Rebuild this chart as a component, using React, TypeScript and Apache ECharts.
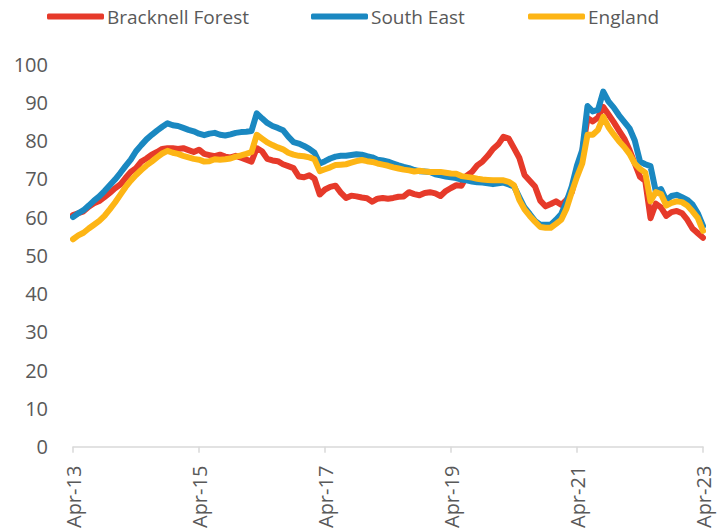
import React, { useEffect, useRef } from "react";
import * as echarts from "echarts";

const MONTHS = ["Jan", "Feb", "Mar", "Apr", "May", "Jun", "Jul", "Aug", "Sep", "Oct", "Nov", "Dec"];
// Monthly categories Apr-13 .. Apr-23
const categories: string[] = [];
for (let i = 0; i <= 120; i++) {
  const mi = (3 + i) % 12;
  const yr = 13 + Math.floor((3 + i) / 12);
  categories.push(`${MONTHS[mi]}-${yr}`);
}

const bracknellForest = [
  60.5, 61.0, 61.5, 62.7, 63.6, 64.2, 65.2, 66.3, 67.5, 68.5, 70.2, 71.8,
  72.8, 74.5, 75.3, 76.3, 77.0, 77.8, 78.0, 78.0, 77.8, 78.0, 77.5, 77.0,
  77.6, 76.5, 76.2, 75.9, 76.3, 75.8, 75.6, 76.0, 75.5, 75.0, 74.5, 78.0,
  77.2, 75.2, 74.8, 74.6, 73.8, 73.3, 72.8, 70.6, 70.4, 70.9, 70.0, 65.9,
  67.2, 67.9, 68.2, 66.4, 65.0, 65.6, 65.4, 65.1, 64.9, 64.0, 64.8, 65.0,
  64.8, 65.0, 65.3, 65.4, 66.5, 66.0, 65.7, 66.3, 66.5, 66.2, 65.5, 66.8,
  67.6, 68.3, 68.2, 70.8, 71.8, 73.5, 74.5, 76.0, 77.8, 79.0, 81.0, 80.5,
  78.0, 75.5, 71.0, 69.5, 68.0, 64.3, 62.8, 63.4, 64.1, 63.2, 64.5, 66.5,
  72.0, 77.0, 85.9, 85.0, 86.0, 88.8, 86.8, 84.8, 82.6, 80.5, 77.5, 74.0,
  70.5, 69.5, 59.7, 63.5, 62.5, 60.3, 61.3, 61.6, 61.0, 59.3, 57.0, 55.8,
  54.6,
];

const southEast = [
  60.0, 61.0, 61.8, 63.0, 64.3, 65.4, 66.8, 68.3, 69.8, 71.5, 73.3, 75.0,
  77.2, 78.8, 80.3, 81.5, 82.6, 83.6, 84.5, 84.0, 83.8, 83.3, 82.8, 82.4,
  81.8, 81.4, 81.8, 82.0, 81.5, 81.3, 81.6, 82.0, 82.2, 82.3, 82.5, 87.1,
  85.8, 84.6, 83.8, 83.3, 82.7, 81.0, 79.6, 79.2, 78.6, 77.8, 76.8, 74.0,
  74.6, 75.3, 75.8, 76.0, 76.0, 76.2, 76.4, 76.3, 75.9, 75.6, 75.0, 74.8,
  74.5, 74.0, 73.5, 73.1, 72.8, 72.3, 72.0, 71.9, 71.8, 71.2, 70.9, 70.6,
  70.4, 70.2, 69.8, 69.6, 69.3, 69.1, 69.0, 68.8, 68.6, 68.8, 69.0, 68.5,
  68.0, 65.2, 62.5, 60.8, 59.0, 58.0, 58.0, 58.0, 59.3, 60.8, 64.0, 68.0,
  73.5, 77.5, 89.0, 87.6, 88.0, 92.8, 90.2, 88.6, 86.6, 84.9, 83.2, 80.0,
  74.5, 73.8, 73.3, 66.8, 67.3, 64.4, 65.5, 65.8, 65.2, 64.5, 63.3, 61.0,
  57.7,
];

const england = [
  54.2, 55.2, 55.9, 57.0, 58.0, 59.0, 60.3, 62.0, 63.8, 65.8, 67.8, 69.5,
  71.0, 72.3, 73.5, 74.5, 75.6, 76.6, 77.3, 76.8, 76.5, 76.0, 75.6, 75.2,
  75.0, 74.5, 74.6, 75.1, 75.0, 75.1, 75.3, 75.8, 76.1, 76.5, 77.0, 81.5,
  80.5, 79.5, 78.8, 78.2, 77.7, 76.8, 76.3, 76.0, 75.9, 75.6, 75.1, 72.0,
  72.5, 73.0, 73.6, 73.7, 73.8, 74.2, 74.6, 74.9, 74.6, 74.4, 74.0, 73.7,
  73.4, 73.0, 72.7, 72.4, 72.2, 71.9, 72.1, 71.9, 71.8, 71.8, 71.8, 71.6,
  71.4, 71.3, 70.7, 70.5, 70.3, 70.0, 69.8, 69.7, 69.6, 69.6, 69.6, 69.2,
  68.3, 64.5, 62.0, 60.3, 58.8, 57.4, 57.2, 57.2, 58.2, 59.3, 62.2, 66.5,
  70.5, 74.0, 81.5, 81.5, 82.8, 86.2, 83.5, 81.6, 79.8, 78.3, 76.5, 74.0,
  72.6, 71.6, 64.1, 66.5, 66.0, 63.0, 63.7, 64.1, 63.9, 63.0, 61.5, 59.8,
  56.4,
];

const seriesNames = ["Bracknell Forest", "South East", "England"];
const seriesColors = ["#E63A2A", "#1A88C1", "#FDB515"];
const seriesData = [bracknellForest, southEast, england];

const FONT = "'Open Sans', 'Noto Sans', sans-serif";
const TEXT = "#595959";

export default function App() {
  const ref = useRef<HTMLDivElement>(null);
  useEffect(() => {
    if (!ref.current) return;
    const chart = echarts.init(ref.current, undefined, { renderer: "svg" });
    const legendLefts = [47, 311, 528];
    chart.setOption({
      animation: false,
      backgroundColor: "#ffffff",
      textStyle: { fontFamily: FONT },
      legend: seriesNames.map((n, i) => ({
        data: [n],
        left: legendLefts[i],
        top: 7,
        icon: "roundRect",
        itemWidth: 57,
        itemHeight: 6,
        itemGap: 0,
        padding: 0,
        textStyle: { fontFamily: FONT, fontSize: 19, color: TEXT, padding: [0, 0, 0, -2] },
      })),
      grid: { left: 73, right: 21, top: 64, bottom: 78, containLabel: false },
      xAxis: {
        type: "category",
        data: categories,
        boundaryGap: false,
        axisLine: { lineStyle: { color: "#D9D9D9", width: 1.5 } },
        axisTick: { show: true, interval: 23, length: 6, lineStyle: { color: "#D9D9D9", width: 1.5 } },
        axisLabel: {
          interval: 23,
          rotate: 90,
          margin: 19,
          fontFamily: FONT,
          fontSize: 20,
          color: TEXT,
        },
        splitLine: { show: false },
      },
      yAxis: {
        type: "value",
        min: 0,
        max: 100,
        interval: 10,
        axisLine: { show: false },
        axisTick: { show: false },
        splitLine: { show: false },
        axisLabel: { margin: 25, fontFamily: FONT, fontSize: 20, color: TEXT },
      },
      series: seriesNames.map((n, i) => ({
        name: n,
        type: "line",
        data: seriesData[i],
        symbol: "none",
        smooth: false,
        color: seriesColors[i],
        lineStyle: { width: 6, color: seriesColors[i], join: "round", cap: "round" },
      })),
    });
    return () => chart.dispose();
  }, []);
  return (
    <div
      ref={ref}
      style={{ position: "fixed", left: 0, top: 0, width: 724, height: 531, background: "#fff" }}
    />
  );
}
